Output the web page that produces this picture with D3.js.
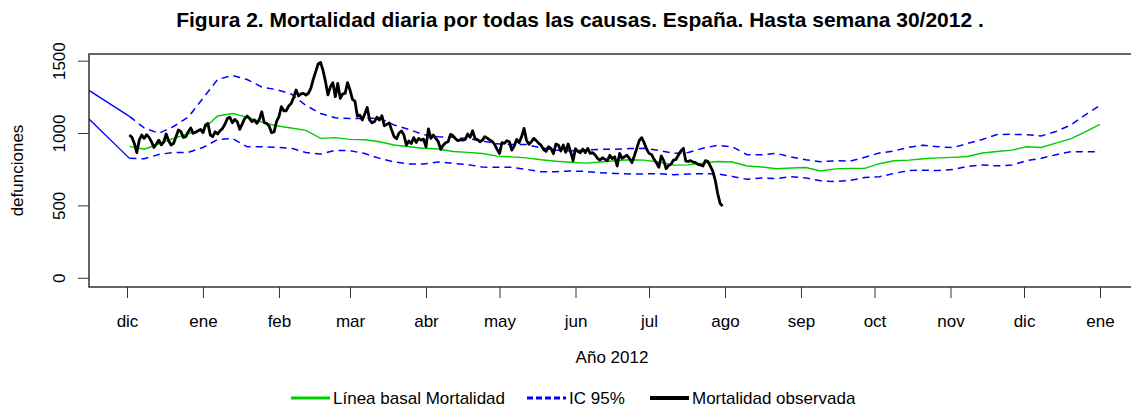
<!DOCTYPE html>
<html>
<head>
<meta charset="utf-8">
<script src="https://cdn.jsdelivr.net/npm/d3@7"></script>
<style>
  html, body { margin: 0; padding: 0; background: #fff; }
  svg { display: block; font-family: "Liberation Sans", Arial, sans-serif; }
</style>
</head>
<body>
<div id="chart"></div>
<script>
// Figura 2 — mortalidad diaria por todas las causas, España, hasta semana 30/2012

const START = new Date(2011, 11, 1);   // día 0 = 1 dic 2011

// Mortalidad observada: un valor por día, desde el día 1 (2 dic 2011)
const observedStart = 1;
const observed = [
  986, 970, 928, 864, 951, 986, 963, 988, 970, 940,
  901, 924, 951, 919, 938, 993, 947, 917, 928, 974,
  1021, 1009, 970, 975, 1009, 1035, 998, 1005, 1016, 1025,
  1002, 1055, 1067, 986, 975, 1009, 993, 1016, 1032, 1062,
  1101, 1108, 1071, 1094, 1078, 1025, 1062, 1099, 1117, 1101,
  1078, 1090, 1067, 1094, 1147, 1071, 1067, 1048, 1002, 1007,
  1078, 1113, 1182, 1154, 1154, 1187, 1205, 1246, 1297, 1256,
  1270, 1274, 1263, 1274, 1309, 1371, 1424, 1477, 1488, 1431,
  1355, 1263, 1320, 1348, 1251, 1343, 1240, 1270, 1274, 1348,
  1297, 1233, 1221, 1117, 1124, 1090, 1131, 1177, 1090, 1070,
  1080, 1110, 1090, 1120, 1050, 1060, 1070, 1020, 975, 960,
  1000, 1014, 986, 917, 945, 928, 968, 935, 963, 951,
  958, 905, 1028, 963, 986, 963, 940, 887, 915, 933,
  940, 991, 981, 961, 947, 954, 951, 956, 993, 970,
  1016, 963, 954, 940, 951, 975, 965, 951, 942, 922,
  887, 859, 933, 928, 947, 940, 882, 910, 956, 933,
  975, 1032, 951, 922, 940, 963, 947, 928, 915, 885,
  873, 906, 894, 857, 924, 917, 876, 917, 866, 924,
  871, 809, 892, 873, 864, 889, 864, 894, 859, 864,
  848, 825, 813, 829, 818, 809, 846, 823, 836, 772,
  859, 825, 836, 846, 825, 795, 841, 894, 947, 968,
  933, 890, 859, 852, 820, 795, 763, 841, 809, 753,
  776, 785, 813, 818, 848, 876, 894, 806, 804, 809,
  799, 795, 783, 779, 772, 809, 804, 772, 737, 675,
  583, 514, 495
];

// Línea basal e IC 95%: un valor cada 6 días, desde el día 1
const baseStart = 1;
const baseStep = 6;
const baseline = [
  908, 888, 925, 963, 995, 1025, 1118, 1135, 1110, 1075,
  1050, 1035, 1018, 963, 968, 956, 953, 940, 917, 905,
  895, 890, 872, 866, 858, 840, 835, 828, 815, 805,
  798, 792, 800, 808, 815, 813, 800, 778, 780, 792,
  803, 800, 772, 765, 753, 758, 762, 738, 752, 756,
  756, 788, 808, 813, 822, 828, 832, 838, 862, 872,
  882, 905, 900, 930, 960, 1008, 1060
];
const upperCI = [
  1115, 1035, 998, 1045, 1110, 1240, 1370, 1398, 1370, 1318,
  1300, 1270, 1190, 1135, 1105, 1101, 1101, 1103, 1055, 1025,
  988, 975, 970, 962, 945, 925, 920, 920, 898, 882,
  875, 882, 887, 887, 893, 894, 880, 860, 865, 895,
  915, 905, 850, 850, 859, 835, 815, 802, 808, 806,
  832, 862, 876, 902, 916, 905, 899, 928, 955, 990,
  991, 988, 980, 1010, 1055, 1125, 1190
];
const lowerCI = [
  825, 822, 852, 866, 866, 900, 955, 962, 905, 905,
  902, 895, 865, 855, 880, 878, 858, 825, 800, 786,
  786, 800, 790, 782, 765, 763, 763, 749, 733, 733,
  737, 735, 725, 721, 717, 717, 720, 712, 717, 719,
  717, 700, 680, 690, 685, 698, 690, 670, 664, 673,
  692, 698, 721, 741, 743, 741, 748, 770, 779, 773,
  779, 809, 825, 850, 871, 871, 871
];

// tramo inicial de las bandas, que arranca antes del borde izquierdo
const ciLeadDay = -16;
const upperLead = 1300;
const lowerLead = 1105;

const monthLabels = ['dic', 'ene', 'feb', 'mar', 'abr', 'may', 'jun',
                     'jul', 'ago', 'sep', 'oct', 'nov', 'dic', 'ene'];
const yTicks = [0, 500, 1000, 1500];

const legendItems = ['Línea basal Mortalidad', 'IC 95%', 'Mortalidad observada'];

// ---------------------------------------------------------------------------

const W = 1131, H = 407;
const plot = { left: 89, top: 54, right: 1139, bottom: 287 };
const FONT = 17;

const svg = d3.select('#chart').append('svg')
  .attr('width', W)
  .attr('height', H);

const x = d3.scaleTime()
  .domain([new Date(2011, 10, 15, 12), new Date(2013, 0, 16, 22)])
  .range([plot.left, plot.right]);

const y = d3.scaleLinear()
  .domain([-64, 1546])
  .range([plot.bottom, plot.top]);

const dayDate = d => d3.timeDay.offset(START, d);
const toPoints = (vals, start, step) =>
  vals.map((v, i) => ({ date: dayDate(start + i * step), v }));

const obsPts   = toPoints(observed, observedStart, 1);
const basePts  = toPoints(baseline, baseStart, baseStep);
const upperPts = toPoints(upperCI, baseStart, baseStep);
const lowerPts = toPoints(lowerCI, baseStart, baseStep);

const line = d3.line().x(d => x(d.date)).y(d => y(d.v));

svg.append('clipPath').attr('id', 'clip')
  .append('rect')
  .attr('x', plot.left).attr('y', plot.top)
  .attr('width', plot.right - plot.left)
  .attr('height', plot.bottom - plot.top);

const g = svg.append('g').attr('clip-path', 'url(#clip)');

// solid lead-in of both bands
[[upperLead, upperPts[0]], [lowerLead, lowerPts[0]]].forEach(([v0, p1]) => {
  g.append('path')
    .attr('d', line([{ date: dayDate(ciLeadDay), v: v0 }, p1]))
    .attr('fill', 'none')
    .attr('stroke', '#0000ff')
    .attr('stroke-width', 1.3);
});

[upperPts, lowerPts].forEach(pts => {
  g.append('path')
    .attr('d', line(pts))
    .attr('fill', 'none')
    .attr('stroke', '#0000ff')
    .attr('stroke-width', 1.5)
    .attr('stroke-dasharray', '7,5');
});

g.append('path')
  .attr('d', line(basePts))
  .attr('fill', 'none')
  .attr('stroke', '#00cd00')
  .attr('stroke-width', 1.4);

g.append('path')
  .attr('d', line(obsPts))
  .attr('fill', 'none')
  .attr('stroke', '#000')
  .attr('stroke-width', 2.8)
  .attr('stroke-linejoin', 'round');

// box (right side falls outside the picture)
svg.append('rect')
  .attr('x', plot.left).attr('y', plot.top)
  .attr('width', plot.right - plot.left)
  .attr('height', plot.bottom - plot.top)
  .attr('fill', 'none')
  .attr('stroke', '#333')
  .attr('stroke-width', 1.5);

// x axis
const monthTicks = d3.timeMonth.range(new Date(2011, 11, 1), new Date(2013, 0, 2));
svg.append('g')
  .attr('transform', `translate(0,${plot.bottom})`)
  .call(d3.axisBottom(x)
    .tickValues(monthTicks)
    .tickSize(11)
    .tickPadding(17)
    .tickFormat((d, i) => monthLabels[i]))
  .attr('font-size', FONT)
  .attr('font-family', null)
  .call(a => a.select('.domain').remove())
  .call(a => a.selectAll('line').attr('stroke', '#333'))
  .call(a => a.selectAll('text').attr('fill', '#000'));

// y axis, labels turned like R's las=0
svg.append('g')
  .attr('transform', `translate(${plot.left},0)`)
  .call(d3.axisLeft(y).tickValues(yTicks).tickSize(11).tickFormat(d3.format('d')))
  .attr('font-size', FONT)
  .attr('font-family', null)
  .call(a => a.select('.domain').remove())
  .call(a => a.selectAll('line').attr('stroke', '#333'))
  .call(a => a.selectAll('text')
    .attr('fill', '#000')
    .attr('transform', 'rotate(-90)')
    .attr('x', 0)
    .attr('y', -30)
    .attr('dy', '0.35em')
    .attr('text-anchor', 'middle'));

// titles
svg.append('text')
  .attr('x', 580).attr('y', 27)
  .attr('text-anchor', 'middle')
  .attr('font-size', 21)
  .attr('font-weight', 'bold')
  .text('Figura 2. Mortalidad diaria por todas las causas. España. Hasta semana 30/2012 .');

svg.append('text')
  .attr('x', 612).attr('y', 363)
  .attr('text-anchor', 'middle')
  .attr('font-size', FONT)
  .text('Año 2012');

svg.append('text')
  .attr('transform', `translate(23,${(plot.top + plot.bottom) / 2}) rotate(-90)`)
  .attr('text-anchor', 'middle')
  .attr('font-size', FONT)
  .text('defunciones');

// legend
const legendStyles = [
  { x0: 291, stroke: '#00cd00', width: 3, dash: null },
  { x0: 527, stroke: '#0000ff', width: 3, dash: '6,3' },
  { x0: 650, stroke: '#000',    width: 4, dash: null },
];
const ly = 398;
legendItems.forEach((label, i) => {
  const s = legendStyles[i];
  svg.append('line')
    .attr('x1', s.x0).attr('x2', s.x0 + 39)
    .attr('y1', ly).attr('y2', ly)
    .attr('stroke', s.stroke)
    .attr('stroke-width', s.width)
    .attr('stroke-dasharray', s.dash);
  svg.append('text')
    .attr('x', s.x0 + 42).attr('y', ly)
    .attr('dy', '0.35em')
    .attr('font-size', FONT)
    .text(label);
});
</script>
</body>
</html>
